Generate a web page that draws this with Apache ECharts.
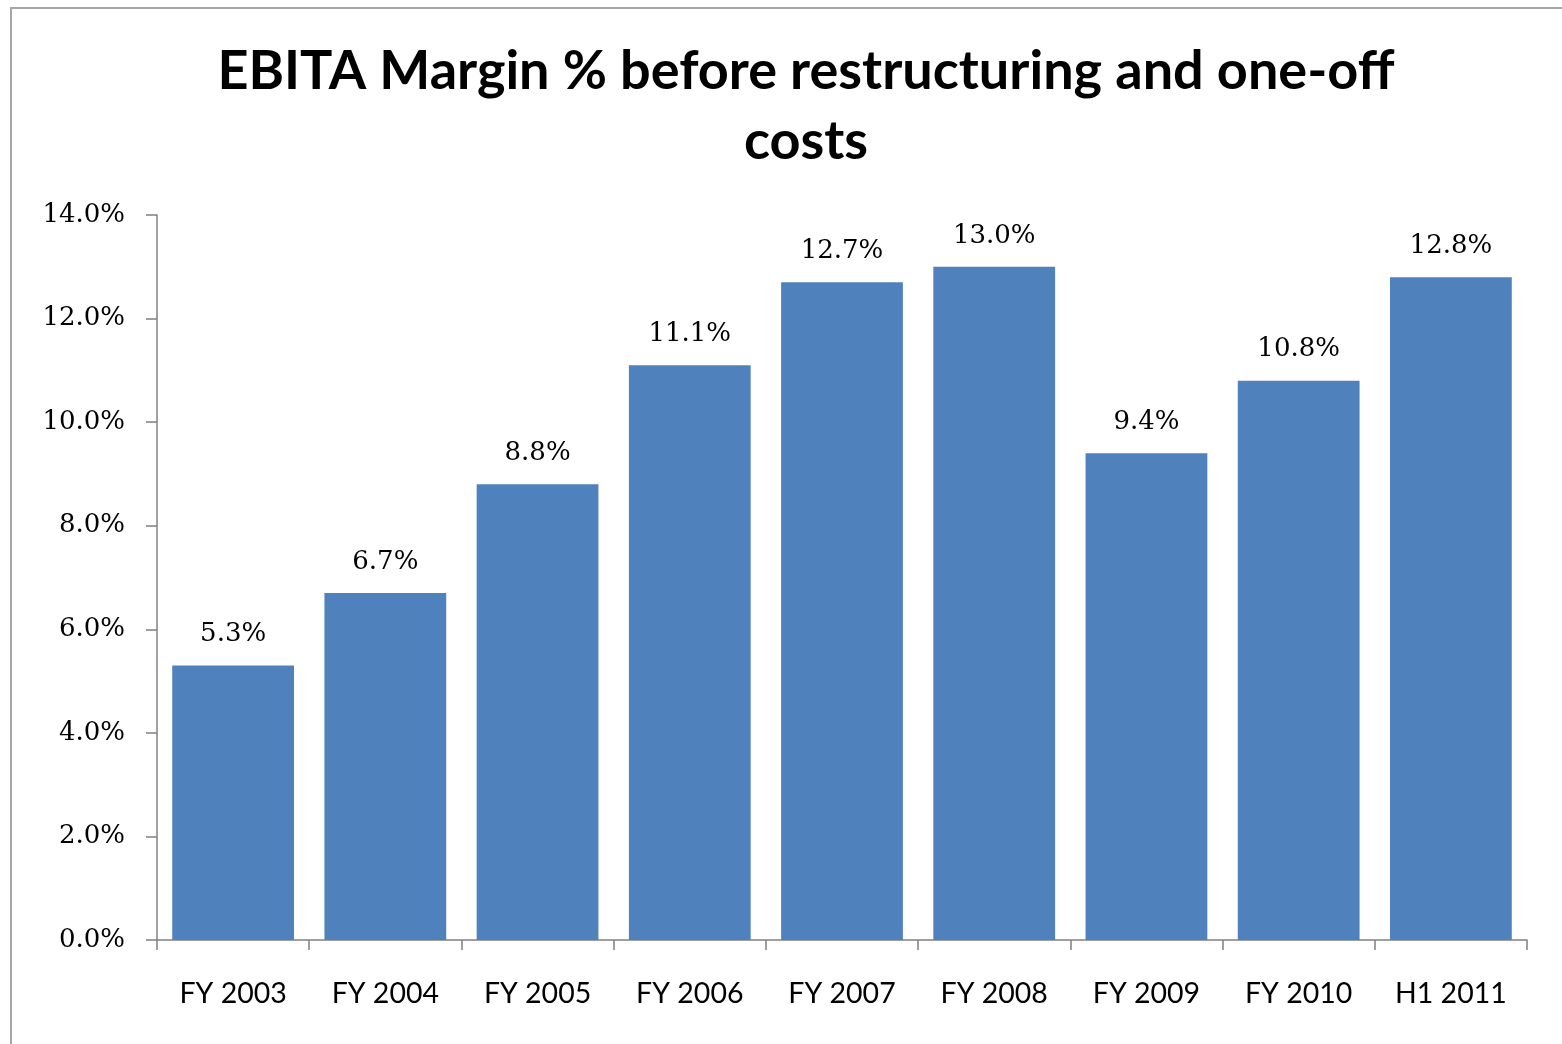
<!DOCTYPE html>
<html>
<head>
<meta charset="utf-8">
<script src="https://cdn.jsdelivr.net/npm/echarts@6/dist/echarts.min.js"></script>
<style>
  html, body { margin: 0; padding: 0; background: #fff; }
  #chart { width: 1562px; height: 1044px; }
</style>
</head>
<body>
<div id="chart"></div>
<script>
const categories = ['FY 2003', 'FY 2004', 'FY 2005', 'FY 2006', 'FY 2007', 'FY 2008', 'FY 2009', 'FY 2010', 'H1 2011']
const margins = [5.3, 6.7, 8.8, 11.1, 12.7, 13.0, 9.4, 10.8, 12.8]
const yTicks = [0, 2, 4, 6, 8, 10, 12, 14]

const chart = echarts.init(document.getElementById('chart'))
chart.setOption({
    backgroundColor: '#fff',
    animation: false,
    title: {
        text: 'EBITA Margin % before restructuring and one-off\ncosts',
        left: 801,
        textAlign: 'center',
        top: 32,
        textStyle: {
            fontFamily: 'Lato',
            fontWeight: 'bold',
            fontSize: 54,
            lineHeight: 70,
            color: '#000'
        }
    },
    graphic: [{
        // outer chart frame (right/bottom edges run off the picture)
        type: 'rect',
        shape: { x: 11, y: 8, width: 1600, height: 1100 },
        style: { fill: 'none', stroke: '#a6a6a6', lineWidth: 2 }
    }],
    grid: {
        left: 157,
        right: 35,
        top: 215,
        bottom: 104
    },
    xAxis: {
        type: 'category',
        data: categories,
        axisLine: { lineStyle: { color: '#808080', width: 1.5 } },
        axisTick: { show: true, length: 10, lineStyle: { color: '#808080', width: 1.5 } },
        axisLabel: {
            margin: 39,
            fontFamily: 'Lato',
            fontSize: 28.5,
            color: '#000'
        }
    },
    yAxis: {
        type: 'value',
        min: yTicks[0],
        max: yTicks[yTicks.length - 1],
        interval: 2,
        axisLine: { show: true, lineStyle: { color: '#808080', width: 1.5 } },
        axisTick: { show: true, length: 11, lineStyle: { color: '#808080', width: 1.5 } },
        splitLine: { show: false },
        axisLabel: {
            margin: 32,
            fontFamily: 'DejaVu Serif',
            fontSize: 26,
            color: '#000',
            formatter: v => v.toFixed(1) + '%'
        }
    },
    series: [{
        type: 'bar',
        data: margins,
        barCategoryGap: '20%',
        itemStyle: { color: '#4f81bd' },
        label: {
            show: true,
            position: 'top',
            distance: 18,
            fontFamily: 'DejaVu Serif',
            fontSize: 26,
            color: '#000',
            formatter: p => p.value.toFixed(1) + '%'
        }
    }]
})
</script>
</body>
</html>
